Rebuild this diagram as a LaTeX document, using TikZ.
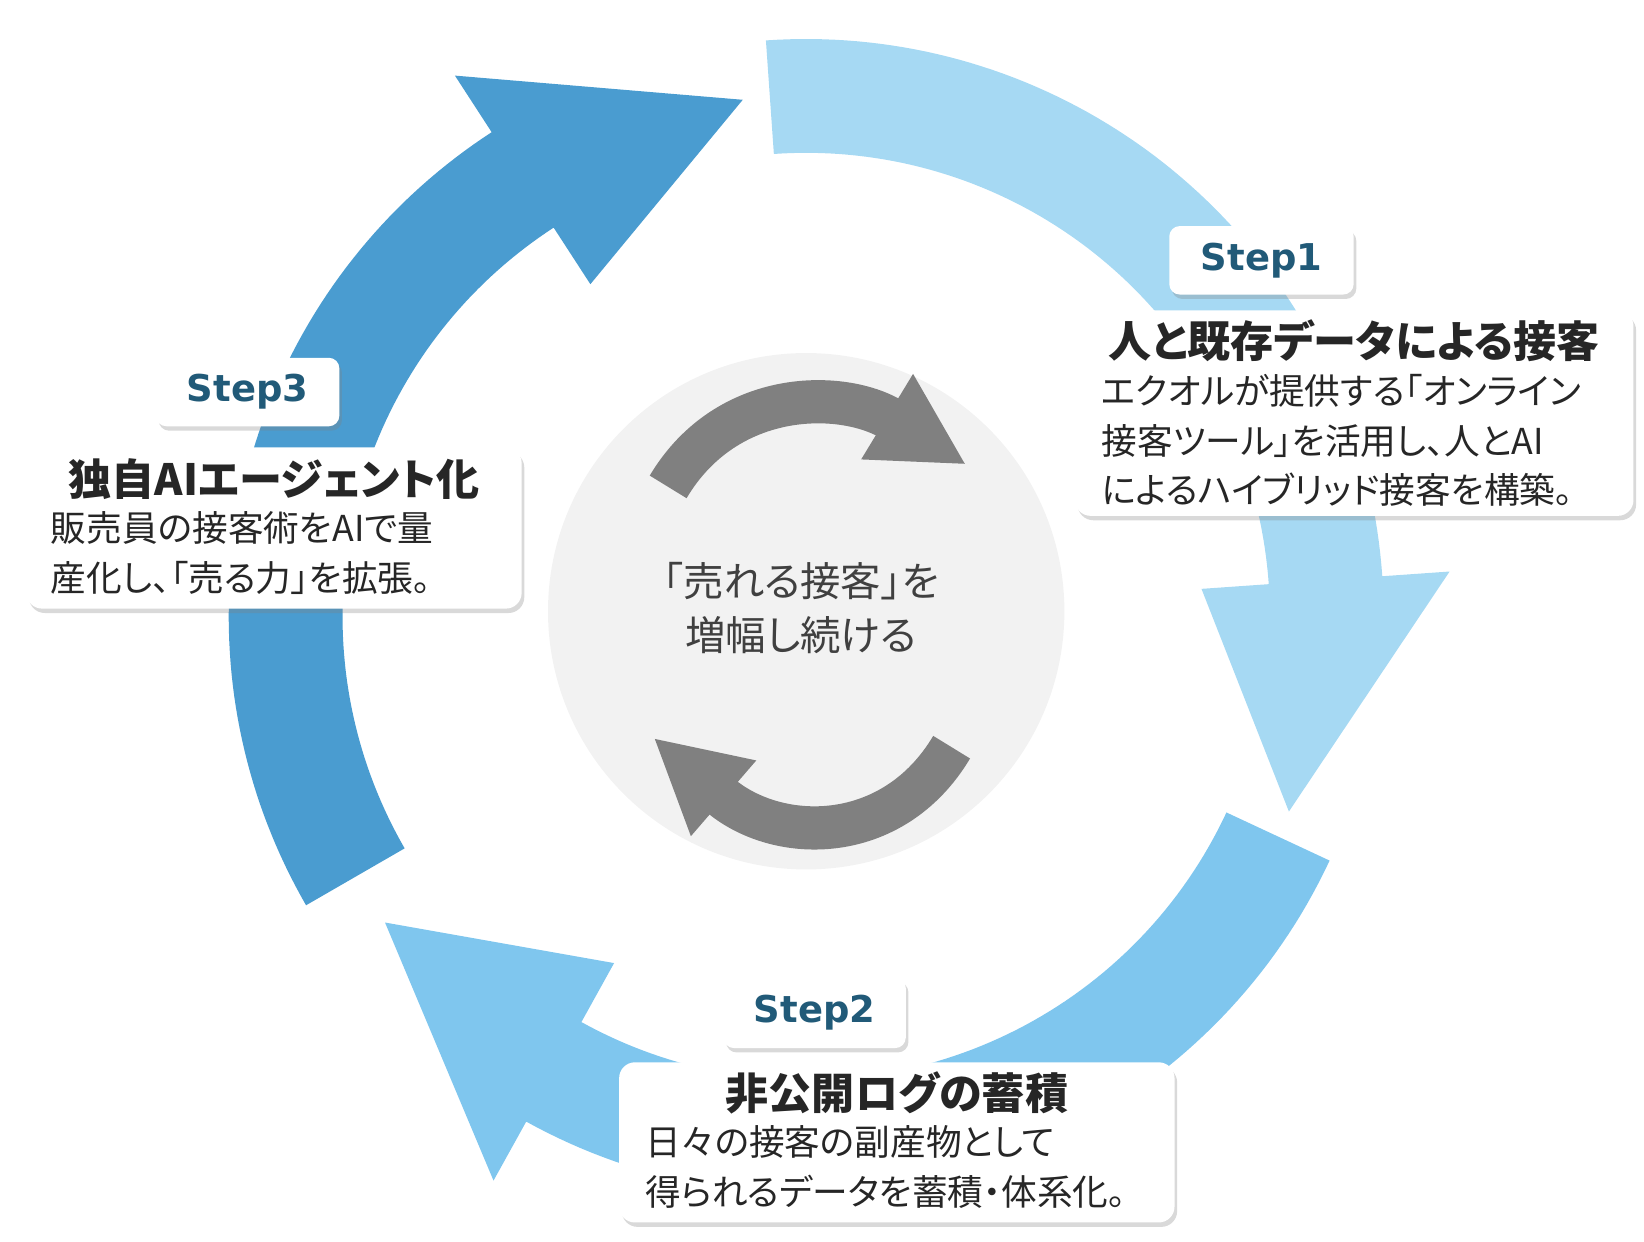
\documentclass[tikz,border=0pt]{standalone}
\usepackage{fontspec}
\setmainfont{Noto Sans CJK JP}[RawFeature=+palt]
\newfontfamily\tagfont{DejaVu Sans}
\usetikzlibrary{shadows,arrows.meta}
\definecolor{stepA}{HTML}{A6D9F3}
\definecolor{stepB}{HTML}{7FC6EE}
\definecolor{stepC}{HTML}{4A9CD0}
\definecolor{tagblue}{HTML}{215A78}
\definecolor{hubgray}{HTML}{F2F2F2}
\def\u{0.02108cm}
\tikzset{tag/.style={fill=white, rounded corners=6pt, inner sep=0pt,
    drop shadow={shadow xshift=1.5pt, shadow yshift=-2.5pt, opacity=.3},
    font=\tagfont\bfseries\fontsize{21}{24}\selectfont, text=tagblue},
box/.style={fill=white, rounded corners=9pt, inner sep=0pt,
    drop shadow={shadow xshift=1.5pt, shadow yshift=-2.5pt, opacity=.3}},
title/.style={font=\bfseries\fontsize{24.5}{28}\selectfont, text=black!85, inner sep=0pt},
body/.style={font=\fontsize{20.3}{28.2}\selectfont, text=black!85, inner sep=0pt, align=left, anchor=north west},
swirl/.style={draw=black!50, line width=41*\u, -{Triangle[length=88*\u, width=88*\u]}}}
% ring arrow: colour, start angle, head base angle, tip angle
\newcommand\ringarrow[4]{%
\fill[#1] plot[domain=#2:#3, samples=80] ({765+548*cos(\x)},{585+548*sin(\x)})
  -- ({765+612*cos(#3)},{585+612*sin(#3)})
  -- ({765+494*cos(#4)},{585+494*sin(#4)})
  -- ({765+376*cos(#3)},{585+376*sin(#3)})
  -- plot[domain=#3:#2, samples=80] ({765+440*cos(\x)},{585+440*sin(\x)}) -- cycle;}

\begin{document}
\begin{tikzpicture}[x=\u, y=-\u]
\useasboundingbox (0,0) rectangle (1560,1178);

\ringarrow{stepA}{-94}{-4}{22}
\ringarrow{stepB}{25}{119}{144}
\ringarrow{stepC}{150}{237}{263}

\node[circle, fill=hubgray, minimum size=490*\u, inner sep=0pt] (hub) at (765,580) {};
\node[font=\fontsize{23}{31}\selectfont, text=black!75, align=center] (motto) at (760,577) {「売れる接客」を\\増幅し続ける};

\coordinate (topTail) at (634,462);
\coordinate (topTip) at (917,441);
\draw[swirl] (topTail) .. controls (690,368) and (800,370) .. (topTip);
\coordinate (botTail) at (903,709);
\coordinate (botTip) at (620,700);
\draw[swirl] (botTail) .. controls (847,803) and (737,801) .. (botTip);

% Step1
\node[tag, minimum width=175*\u, minimum height=65*\u] (s1tag) at (1197,247) {Step1};
\node[box, minimum width=530*\u, minimum height=195*\u] (s1box) at (1285,392) {};
\node[title] (s1title) at (1285,323) {人と既存データによる接客};
\node[body] (s1text) at (1045,355) {エクオルが提供する「オンライン\\接客ツール」を活用し、人とAI\\によるハイブリッド接客を構築。};

% Step2
\node[tag, minimum width=173*\u, minimum height=67*\u] (s2tag) at (773,961) {Step2};
\node[box, minimum width=527*\u, minimum height=152*\u] (s2box) at (851,1084) {};
\node[title] (s2title) at (851,1037) {非公開ログの蓄積};
\node[body] (s2text) at (612,1068) {日々の接客の副産物として\\得られるデータを蓄積・体系化。};

% Step3
\node[tag, minimum width=174*\u, minimum height=65*\u] (s3tag) at (235,372) {Step3};
\node[box, minimum width=470*\u, minimum height=153*\u] (s3box) at (260,501) {};
\node[title] (s3title) at (260,455) {独自AIエージェント化};
\node[body] (s3text) at (48,485) {販売員の接客術をAIで量\\産化し、「売る力」を拡張。};
\end{tikzpicture}
\end{document}
